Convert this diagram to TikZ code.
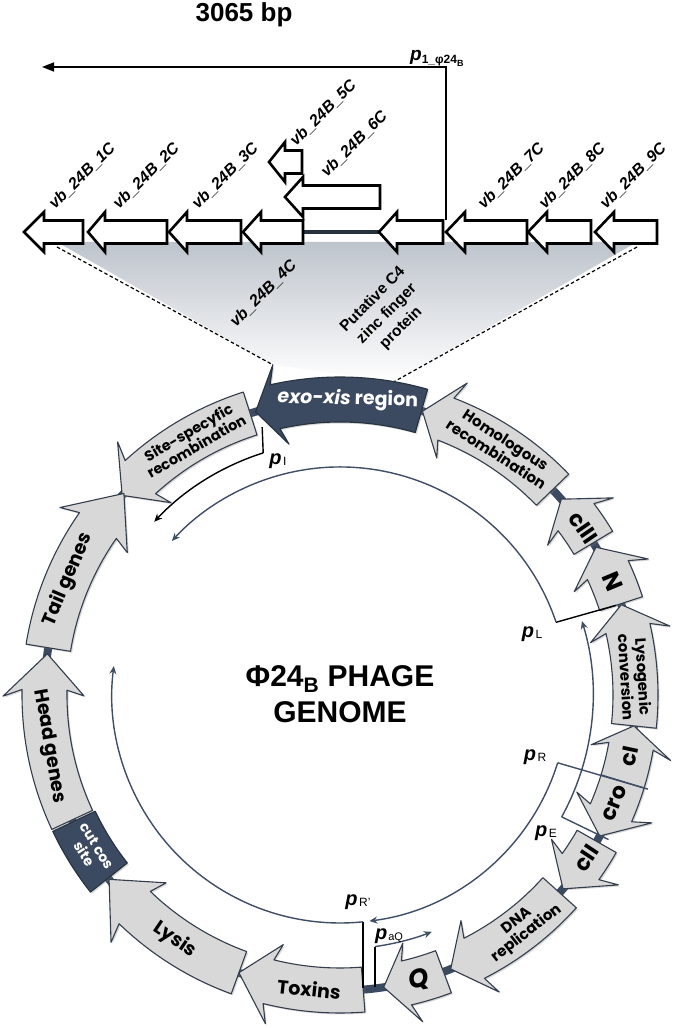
\documentclass[tikz,border=0pt]{standalone}
\usepackage{fontspec}
\setmainfont{Liberation Sans}
\newfontfamily\geo{Poppins}
\usetikzlibrary{arrows.meta,shadows}
\definecolor{navy}{HTML}{3B4A60}
\definecolor{navyedge}{HTML}{28323F}
\definecolor{navyline}{HTML}{3F4E66}
\definecolor{ringgray}{HTML}{D8D8D8}
\definecolor{ringedge}{HTML}{333D4C}
\definecolor{shadegray}{HTML}{BEC4CC}
\newcommand{\fs}[1]{\fontsize{#1}{#1}\selectfont}
% tail, neck, barb, tip, style
\newcommand{\ringarrow}[5]{%
  \path[#5] (#1:273pt) arc[start angle=#1, end angle=#2, radius=273pt]
    -- (#3:256pt) -- (#4:295.5pt) -- (#3:337pt) -- (#2:318pt)
    arc[start angle=#2, end angle=#1, radius=318pt] -- cycle;}
% tip, neck, tail, centre y
\newcommand{\gene}[4]{%
  \draw[genebox] ({#3},{#4+11.5}) -- ({#2},{#4+11.5}) -- ({#2},{#4+20}) -- ({#1},{#4})
    -- ({#2},{#4-20}) -- ({#2},{#4-11.5}) -- ({#3},{#4-11.5}) -- cycle;}
\newcommand{\prom}[1]{{\fs{20}\bfseries\itshape p}\kern1.5pt\raisebox{-1.5pt}{\fs{12}#1}}
\begin{document}
\begin{tikzpicture}[x=1pt,y=1pt,
  genebox/.style={draw=black, fill=white, line width=2.6pt, line join=miter, miter limit=10},
  ringg/.style={draw=ringedge, fill=ringgray, line width=1.1pt, line join=round,
    drop shadow={shadow xshift=1.5pt, shadow yshift=-1.5pt, opacity=.3}},
  ringn/.style={draw=navyedge, fill=navy, line width=1.1pt, line join=round,
    drop shadow={shadow xshift=1.5pt, shadow yshift=-1.5pt, opacity=.3}},
  rtxt/.style={font=\geo\bfseries, align=center, inner sep=0pt},
  glabel/.style={font=\fs{16}\bfseries\itshape, inner sep=0pt, rotate=45, anchor=base west},
  arcline/.style={draw=navyline, line width=1.4pt, -{Stealth[length=8pt,width=7pt]}},
  brk/.style={draw=black, line width=1.4pt},
  plab/.style={inner sep=0pt}]
\useasboundingbox (0,0) rectangle (685,1028);
\fill[white] (0,0) rectangle (685,1028);

% ---------- zoom trapezoid ----------
\begin{scope}[shift={(340,333)}]
  \coordinate (exoL) at (101.5:337pt);
  \coordinate (exoR) at (80.2:318pt);
\end{scope}
\coordinate (rowL) at (57,781);
\coordinate (rowR) at (637,781);
\shade[top color=shadegray, bottom color=white] (57,786) -- (637,786) -- (exoR) -- (exoL) -- cycle;
\draw[line width=1.2pt, dash pattern=on 3.5pt off 2.5pt] (rowL) -- (exoL);
\draw[line width=1.2pt, dash pattern=on 3.5pt off 2.5pt] (rowR) -- (exoR);

% ---------- ring ----------
\begin{scope}[shift={(340,333)}]
  \draw[navy, line width=8pt] (0,0) circle[radius=295.5pt];
  \ringarrow{74}{102.7}{101.5}{106.6}{ringn}
  \ringarrow{107.7}{132.5}{131.3}{137.5}{ringg}
  \ringarrow{170.8}{145}{146.2}{137}{ringg}
  \ringarrow{205}{179}{180.2}{172}{ringg}
  \path[ringn] (205.4:271pt) arc[start angle=205.4, end angle=218.3, radius=271pt]
     -- (218.3:318pt) arc[start angle=218.3, end angle=205.4, radius=318pt] -- cycle;
  \ringarrow{250}{226}{227.2}{218.6}{ringg}
  \ringarrow{274.5}{256}{257.2}{250}{ringg}
  \ringarrow{290.5}{283}{284.2}{278.5}{ringg}
  \ringarrow{318}{297}{298.2}{292}{ringg}
  \ringarrow{330.3}{324.5}{325.7}{319}{ringg}
  \ringarrow{343}{336.5}{337.7}{331.5}{ringg}
  \ringarrow{-17}{-10}{-11.2}{-6}{ringg}
  \ringarrow{-6}{13}{11.8}{17.8}{ringg}
  \ringarrow{18}{25}{23.8}{30}{ringg}
  \ringarrow{31}{37}{35.8}{41.5}{ringg}
  \ringarrow{44}{69}{67.8}{73.8}{ringg}

  % ring texts
  \node[rtxt, text=white, font=\geo\bfseries\fs{19}, rotate=-1.5] (texo) at (88.5:295.5pt) {\itshape exo-xis\upshape\ region};
  \node[rtxt, font=\geo\bfseries\fontsize{14.5}{16}\selectfont, rotate=30] (tsite) at (120:295.5pt) {Site-specyfic\\recombination};
  \node[rtxt, font=\geo\bfseries\fs{19}, rotate=67] (ttail) at (157:295.5pt) {Tail genes};
  \node[rtxt, font=\geo\bfseries\fs{19}, rotate=-80] (thead) at (190:295.5pt) {Head genes};
  \node[rtxt, text=white, font=\geo\bfseries\fontsize{14}{15}\selectfont, rotate=-58.4] (tcos) at (211.8:294pt) {cut cos\\site};
  \node[rtxt, font=\geo\bfseries\fs{19}, rotate=-34] (tlys) at (236:295.5pt) {Lysis};
  \node[rtxt, font=\geo\bfseries\fs{19}, rotate=-6] (ttox) at (264:295.5pt) {Toxins};
  \node[rtxt, font=\geo\bfseries\itshape\fs{26}, rotate=12] (tq) at (285.5:295.5pt) {Q};
  \node[rtxt, font=\geo\bfseries\fontsize{15}{16}\selectfont, rotate=38] (tdna) at (308:295.5pt) {DNA\\replication};
  \node[rtxt, font=\geo\bfseries\fs{22}, rotate=56.5] (tcii) at (326.5:295.5pt) {cII};
  \node[rtxt, font=\geo\bfseries\fs{22}, rotate=68.5] (tcro) at (338.5:295.5pt) {cro};
  \node[rtxt, font=\geo\bfseries\fs{22}, rotate=78] (tci) at (348:295.5pt) {cI};
  \node[rtxt, font=\geo\bfseries\fontsize{15}{16}\selectfont, rotate=-86.5] (tlyso) at (3.5:295.5pt) {Lysogenic\\conversion};
  \node[rtxt, font=\geo\bfseries\fs{24}, rotate=-67.5] (tn) at (22.5:295.5pt) {N};
  \node[rtxt, font=\geo\bfseries\fs{22}, rotate=-55.5] (tciii) at (34.5:295.5pt) {cIII};
  \node[rtxt, font=\geo\bfseries\fontsize{15}{16}\selectfont, rotate=-33] (thom) at (57:295.5pt) {Homologous\\recombination};

  % transcripts
  \coordinate (pLa) at (18:290pt);   \coordinate (pLb) at (18.6:228pt);
  \coordinate (pIa) at (106.2:279pt); \coordinate (pIb) at (107.6:254pt);
  \coordinate (pRa) at (-17:322pt);  \coordinate (pRb) at (-17.3:228pt);
  \coordinate (pEa) at (-28.3:305pt); \coordinate (pEb) at (-28.8:253pt);
  \coordinate (pRpb) at (-84.2:228pt);
  \coordinate (paQb) at (-82.1:254pt);
  \draw[brk] (pLa) -- (pLb);
  \draw[arcline] (pLb) arc[start angle=18.6, end angle=137.5, radius=228pt];
  \draw[brk] (pIa) -- (pIb);
  \draw[brk, -{Stealth[length=8pt,width=7pt]}] (pIb) arc[start angle=107.6, end angle=137, radius=254pt];
  \draw[navyline, line width=1.4pt] (pRa) -- (pRb);
  \draw[arcline] (pRb) arc[start angle=-17.3, end angle=-82.6, radius=228pt];
  \draw[navyline, line width=1.4pt] (pEa) -- (pEb);
  \draw[arcline] (pEb) arc[start angle=-28.8, end angle=17, radius=253pt];
  \draw[brk] (pRpb) -- ++(0,-66);
  \draw[arcline] (pRpb) arc[start angle=-84.2, end angle=-187.3, radius=228pt];
  \draw[brk] (paQb) -- ++(0,-40);
  \draw[arcline] (paQb) arc[start angle=-82.1, end angle=-68.8, radius=254pt];
\end{scope}

% promoter labels
\node[plab] (lpL) at (532,394) {\prom{L}};
\node[plab] (lpR) at (535,271) {\prom{R}};
\node[plab] (lpE) at (546,195) {\prom{E}};
\node[plab] (lpI) at (278,567) {\prom{I}};
\node[plab] (lpRp) at (358,126) {\prom{R’}};
\node[plab] (lpaQ) at (389,92) {{\fs{20}\bfseries\itshape p}\kern1pt\raisebox{-1.5pt}{\fs{11}aQ}};

% centre title
\node[font=\fontsize{30}{36}\selectfont\bfseries, align=center, inner sep=0pt] (title) at (340,334) {Φ24\textsubscript{B} PHAGE\\GENOME};

% ---------- linear map ----------
\node[font=\fs{26}\bfseries, inner sep=0pt] (bp) at (244,1013) {3065 bp};
\coordinate (p1low) at (446,807.5);
\coordinate (p1top) at (446,961);
\coordinate (p1end) at (42,961);
\draw[line width=1.6pt, -{Triangle[length=12pt,width=9pt]}] (p1low) -- (p1top) -- (p1end);
\node[plab, anchor=base west] (lp1) at (410,967) {{\fs{19}\bfseries\itshape p}\raisebox{-3pt}{\fs{12}\bfseries 1\_φ24\raisebox{-2.5pt}{\fs{9}B}}};

\draw[color=navyedge, line width=3.5pt] (303,796) -- (379,796);
\gene{24}{44}{83}{796}
\gene{88}{105}{167}{796}
\gene{169}{187}{241}{796}
\gene{243}{261}{303}{796}
\gene{379}{397}{443}{796}
\gene{446}{465}{527}{796}
\gene{528}{547}{591}{796}
\gene{595}{614}{657}{796}
\gene{269}{285}{302}{866}
\gene{285}{303}{380}{831}

\node[glabel] (l1) at (55,818) {vb\_24B\_1C};
\node[glabel] (l2) at (119,818) {vb\_24B\_2C};
\node[glabel] (l3) at (198,818) {vb\_24B\_3C};
\node[glabel] (l5) at (296,881) {vb\_24B\_5C};
\node[glabel] (l6) at (327,850) {vb\_24B\_6C};
\node[glabel] (l7) at (484,818) {vb\_24B\_7C};
\node[glabel] (l8) at (545,818) {vb\_24B\_8C};
\node[glabel] (l9) at (606,818) {vb\_24B\_9C};
\node[glabel, anchor=north east] (l4) at (289,770) {vb\_24B\_4C};
\node[font=\fontsize{15.5}{20}\selectfont\bfseries, align=center, rotate=45, inner sep=0pt] (lzinc) at (387,714) {Putative C4\\zinc finger\\protein};
\end{tikzpicture}
\end{document}
